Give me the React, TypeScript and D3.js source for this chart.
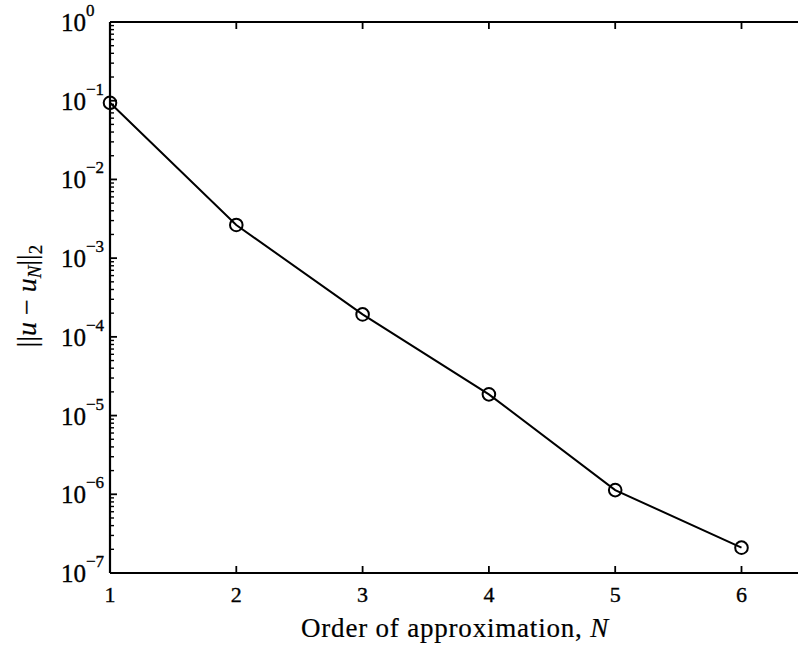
import React from "react";
import * as d3 from "d3";

// Error of the N-th order approximation
const orders = [1, 2, 3, 4, 5, 6];
const errors = [0.094, 2.64e-3, 1.93e-4, 1.86e-5, 1.13e-6, 2.1e-7];

const xTicks = [1, 2, 3, 4, 5, 6, 7];
const yExponents = [0, -1, -2, -3, -4, -5, -6, -7];

const W = 798;
const H = 649;
const left = 110;
const top = 22;
const bottom = 573;
const unit = 126.3;

export default function App() {
  const x = d3.scaleLinear().domain([1, 7]).range([left, left + 6 * unit]);
  const y = d3.scaleLog().domain([1e-7, 1]).range([bottom, top]);

  const line = d3
    .line<number>()
    .x((_, i) => x(orders[i]))
    .y((d) => y(d));

  // minor ticks 2..9 in each decade
  const minor: number[] = [];
  for (let e = -7; e < 0; e++) {
    for (let m = 2; m <= 9; m++) minor.push(m * Math.pow(10, e));
  }

  const serif = "'Liberation Serif', 'Times New Roman', serif";
  const stroke = "#000";
  const ink = { fill: "#000", stroke: "#000", strokeWidth: 0.35 };

  return (
    <svg
      width={W}
      height={H}
      style={{ position: "absolute", left: 0, top: 0, background: "#fff" }}
      fontFamily={serif}
    >
      <rect width={W} height={H} fill="#fff" />
      <defs>
        <clipPath id="frame">
          <rect x={0} y={0} width={W} height={H} />
        </clipPath>
      </defs>
      <g clipPath="url(#frame)">
        {/* axes lines */}
        <line x1={left} x2={W + 10} y1={top} y2={top} stroke={stroke} strokeWidth={2.2} />
        <line x1={left} x2={W + 10} y1={bottom} y2={bottom} stroke={stroke} strokeWidth={2.2} />
        <line x1={left} x2={left} y1={top} y2={bottom} stroke={stroke} strokeWidth={2.2} />

        {/* x ticks (top and bottom, inward) */}
        {xTicks.map((t) => (
          <g key={"xt" + t}>
            <line x1={x(t)} x2={x(t)} y1={bottom} y2={bottom - 7} stroke={stroke} strokeWidth={1.8} />
            <line x1={x(t)} x2={x(t)} y1={top} y2={top + 7} stroke={stroke} strokeWidth={1.8} />
            {x(t) < W && (
              <text x={x(t)} y={602} fontSize={22} textAnchor="middle" {...ink}>
                {t}
              </text>
            )}
          </g>
        ))}

        {/* y ticks */}
        {yExponents.map((e) => (
          <line
            key={"ym" + e}
            x1={left}
            x2={left + 7}
            y1={y(Math.pow(10, e))}
            y2={y(Math.pow(10, e))}
            stroke={stroke}
            strokeWidth={1.8}
          />
        ))}
        {minor.map((v, i) => (
          <line
            key={"yn" + i}
            x1={left}
            x2={left + 4}
            y1={y(v)}
            y2={y(v)}
            stroke={stroke}
            strokeWidth={1.4}
          />
        ))}
        {yExponents.map((e) => {
          const yy = y(Math.pow(10, e));
          return (
            <g key={"yl" + e}>
              <text x={86} y={yy + 9} fontSize={25} textAnchor="end" {...ink}>
                10
              </text>
              <text x={86} y={yy - 6} fontSize={17} textAnchor="start" {...ink}>
                {e === 0 ? "0" : "\u2212" + Math.abs(e)}
              </text>
            </g>
          );
        })}

        {/* data */}
        <path d={line(errors) ?? ""} fill="none" stroke={stroke} strokeWidth={2} />
        {errors.map((v, i) => (
          <circle
            key={"c" + i}
            cx={x(orders[i])}
            cy={y(v)}
            r={6.3}
            fill="none"
            stroke={stroke}
            strokeWidth={2}
          />
        ))}
      </g>

      {/* axis labels */}
      <text x={455} y={637} fontSize={27} letterSpacing={0.8} textAnchor="middle" fill="#000" stroke="#000" strokeWidth={0.2}>
        Order of approximation,{" "}
        <tspan fontStyle="italic">N</tspan>
      </text>
      <text
        transform={`translate(36, 296) rotate(-90)`}
        fontSize={28}
        textAnchor="middle"
        fill="#000"
        stroke="#000"
        strokeWidth={0.2}
      >
        <tspan>||</tspan>
        <tspan fontStyle="italic">u</tspan>
        <tspan> − </tspan>
        <tspan fontStyle="italic">u</tspan>
        <tspan fontStyle="italic" fontSize={19} dy={5}>N</tspan>
        <tspan dy={-5}>||</tspan>
        <tspan fontSize={19} dy={6}>2</tspan>
      </text>
    </svg>
  );
}
